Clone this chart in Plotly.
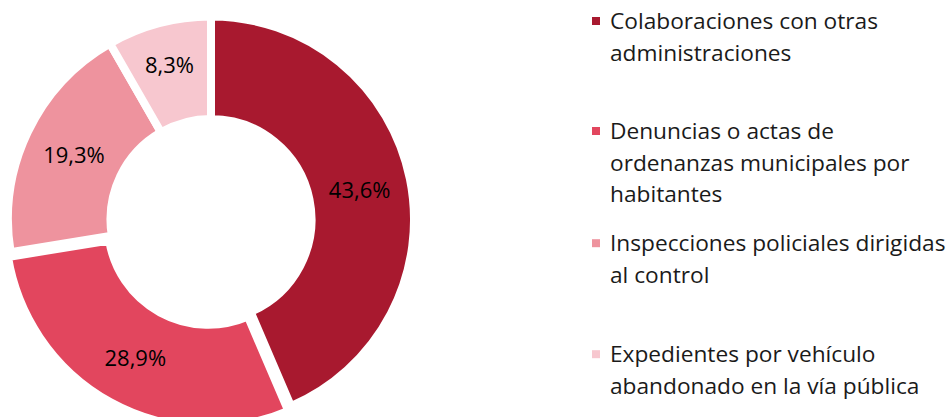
import plotly.graph_objects as go

# Shares of police actions (percent), in drawing order starting at 12 o'clock
categories = [
    "Colaboraciones con otras<br>administraciones",
    "Denuncias o actas de<br>ordenanzas municipales por<br>habitantes",
    "Inspecciones policiales dirigidas<br>al control",
    "Expedientes por vehículo<br>abandonado en la vía pública",
]
values = [43.6, 28.9, 19.3, 8.3]
colors = ["#A8192F", "#E2465E", "#EE939E", "#F7C7CF"]
pulls = [0, 0.027, 0, 0]

labels_pct = [f"{v:.1f}".replace(".", ",") + "%" for v in values]

W, H = 949, 430
FONT = "Open Sans"

fig = go.Figure()
fig.add_trace(go.Pie(
    labels=[c.replace("<br>", " ") for c in categories],
    values=values,
    text=labels_pct,
    textinfo="text",
    textposition="inside",
    insidetextorientation="horizontal",
    textfont=dict(family=FONT, size=22, color="#000000"),
    hole=0.495,
    sort=False,
    direction="clockwise",
    rotation=0,
    pull=pulls,
    marker=dict(colors=colors, line=dict(color="#FFFFFF", width=8)),
    domain=dict(x=[2.5 / W, 419.5 / W], y=[1 - 428 / H, 1 - 11 / H]),
    hoverinfo="label+text",
    showlegend=False,
))

# Legend drawn beside the donut: a square swatch plus wrapped label lines
first_baselines = [28.3, 138.3, 250.5, 361.5]
line_step = 31.7
cap_half = 7.8
sq = 8
text_x = 608
sq_cx = 596

annotations = []
shapes = []
for cat, col, base in zip(categories, colors, first_baselines):
    for i, line in enumerate(cat.split("<br>")):
        yc = base + i * line_step - cap_half
        annotations.append(dict(
            x=text_x / W, y=1 - yc / H, xref="paper", yref="paper",
            text=line, showarrow=False, xanchor="left", yanchor="middle",
            align="left", font=dict(family=FONT, size=22.7, color="#1A1A1A"),
        ))
    yc = base - cap_half + 0.5
    shapes.append(dict(
        type="rect", xref="paper", yref="paper",
        x0=(sq_cx - sq / 2) / W, x1=(sq_cx + sq / 2) / W,
        y0=1 - (yc + sq / 2) / H, y1=1 - (yc - sq / 2) / H,
        fillcolor=col, line=dict(width=0),
    ))

fig.update_layout(
    width=W, height=H,
    margin=dict(l=0, r=0, t=0, b=0),
    paper_bgcolor="#FFFFFF",
    plot_bgcolor="#FFFFFF",
    uniformtext=dict(minsize=22, mode="show"),
    annotations=annotations,
    shapes=shapes,
)

fig.write_html(
    "out.html",
    post_script="document.documentElement.style.overflow='hidden';document.body.style.overflow='hidden';",
)
